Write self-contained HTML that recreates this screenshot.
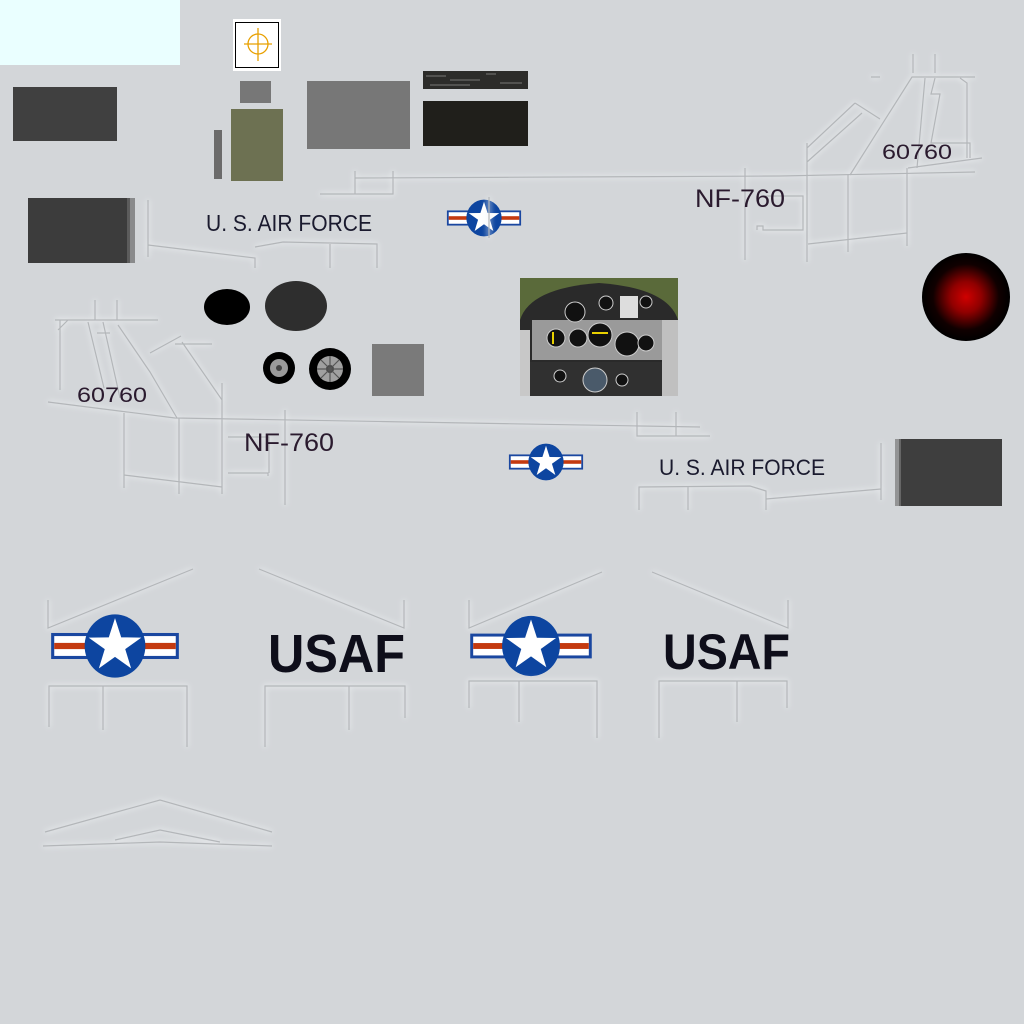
<!DOCTYPE html>
<html><head><meta charset="utf-8"><style>
html,body{margin:0;padding:0;background:#d3d6d9;}
svg{display:block}
.t{font-family:"Liberation Sans","DejaVu Sans",sans-serif;}
</style></head><body>
<svg width="1024" height="1024" viewBox="0 0 1024 1024" xmlns="http://www.w3.org/2000/svg">
<defs>
<filter id="glow" x="-10%" y="-10%" width="120%" height="120%">
<feGaussianBlur in="SourceAlpha" stdDeviation="3" result="b"/>
<feFlood flood-color="#eef0f2"/><feComposite in2="b" operator="in"/>
<feMerge><feMergeNode/><feMergeNode/><feMergeNode in="SourceGraphic"/></feMerge>
</filter>
<radialGradient id="rg">
<stop offset="0" stop-color="#d00000"/>
<stop offset="0.35" stop-color="#900000"/>
<stop offset="0.75" stop-color="#100000"/>
<stop offset="1" stop-color="#000"/>
</radialGradient>
<g id="roundel">
<rect x="-2.06" y="-0.42" width="4.12" height="0.84" fill="#1a47a0"/>
<rect x="-1.96" y="-0.32" width="3.92" height="0.64" fill="#fff"/>
<rect x="-1.96" y="-0.1" width="3.92" height="0.2" fill="#c43a10"/>
<ellipse cx="0" cy="0" rx="0.98" ry="1.02" fill="#0d45a0"/>
<polygon fill="#fff" points="0,-0.9 0.2,-0.28 0.85,-0.27 0.33,0.1 0.52,0.72 0,0.35 -0.52,0.72 -0.33,0.1 -0.85,-0.27 -0.2,-0.28"/>
</g>
</defs>
<rect width="1024" height="1024" fill="#d3d6d9"/>
<rect x="0" y="0" width="180" height="65" fill="#eaffff"/>
<rect x="233" y="19" width="48" height="52" fill="#fff"/>
<rect x="235.5" y="22.5" width="43" height="45" fill="none" stroke="#000" stroke-width="1"/>
<circle cx="258" cy="44" r="10" fill="none" stroke="#e8a000" stroke-width="1.3"/>
<path d="M244 44H272M258 28V61" stroke="#e8a000" stroke-width="1.3"/>
<rect x="13" y="87" width="104" height="54" fill="#404040"/>
<rect x="240" y="81" width="31" height="22" fill="#777"/>
<rect x="231" y="109" width="52" height="72" fill="#6d7152"/>
<rect x="214" y="130" width="8" height="49" fill="#6b6b6b"/>
<rect x="307" y="81" width="103" height="68" fill="#777"/>
<rect x="423" y="71" width="105" height="18" fill="#2c2c2a"/>
<path d="M426 76h20M450 80h30M486 74h10M500 83h22M430 85h40" stroke="#777" stroke-width="1"/>
<rect x="423" y="101" width="105" height="45" fill="#201f1b"/>
<rect x="28" y="198" width="102" height="65" fill="#3c3c3c"/>
<rect x="127" y="198" width="8" height="65" fill="#6a6a6a" opacity="0.7"/>
<rect x="899" y="439" width="103" height="67" fill="#3e3e3e"/>
<rect x="895" y="439" width="6" height="67" fill="#777" opacity="0.7"/>
<ellipse cx="227" cy="307" rx="23" ry="18" fill="#000"/>
<ellipse cx="296" cy="306" rx="31" ry="25" fill="#2e2e2e"/>
<circle cx="279" cy="368" r="16" fill="#000"/><circle cx="279" cy="368" r="9" fill="#9a9a9a"/><circle cx="279" cy="368" r="3" fill="#444"/>
<circle cx="330" cy="369" r="21" fill="#000"/><circle cx="330" cy="369" r="13" fill="#a0a0a0"/><circle cx="330" cy="369" r="4" fill="#444"/>
<path d="M330 356V382M317 369H343M321 360L339 378M339 360L321 378" stroke="#555" stroke-width="1.2"/>
<rect x="372" y="344" width="52" height="52" fill="#7a7a7a"/>
<circle cx="966" cy="297" r="44" fill="url(#rg)"/>
<g>
<rect x="520" y="278" width="158" height="118" fill="#5a6a3a"/>
<path d="M520 396V320Q530 288 599 283Q668 288 678 320V396Z" fill="#2a2a2a"/>
<rect x="532" y="320" width="140" height="40" fill="#9a9a9a"/>
<rect x="520" y="362" width="158" height="34" fill="#303030"/>
<rect x="662" y="320" width="16" height="76" fill="#c0c0c0"/>
<rect x="520" y="330" width="10" height="66" fill="#c8c8c8"/>
<g fill="#111" stroke="#ccc" stroke-width="1">
<circle cx="575" cy="312" r="10"/><circle cx="556" cy="338" r="9"/><circle cx="578" cy="338" r="9"/><circle cx="600" cy="335" r="12"/><circle cx="627" cy="344" r="12"/><circle cx="646" cy="343" r="8"/><circle cx="606" cy="303" r="7"/><circle cx="646" cy="302" r="6"/><circle cx="595" cy="380" r="12" fill="#4a5a6a"/><circle cx="560" cy="376" r="6"/><circle cx="622" cy="380" r="6"/>
</g>
<rect x="620" y="296" width="18" height="22" fill="#ddd"/>
<path d="M592 333h16M553 332v12" stroke="#e8d000" stroke-width="2"/>
</g>
<use href="#roundel" transform="translate(484,218) scale(18)"/>
<use href="#roundel" transform="translate(546,462) scale(18)"/>
<use href="#roundel" transform="translate(115,646) scale(31)"/>
<use href="#roundel" transform="translate(531,646) scale(29.5)"/>
<g filter="url(#glow)" fill="none" stroke="#b3b6b9" stroke-width="1.2">
<path d="M320 194H393V171M355 171V194M355 178L780 176L975 172"/>
<path d="M148 200V257M148 245L255 258V268M255 247L283 242L377 244V268M330 244V268"/>
<path d="M489 197V238"/>
<path d="M807 143V262M807 148L855 103M807 162L862 113M855 103L880 119M850 175L912 77L975 77M871 77H880M913 73V54M935 73V54M925 78L917 168M935 78L931 94L940 94L931 143L970 143V158M960 78L967 83V158M908 168L982 158M848 175V252M907 168V246M808 244L907 233M745 168V260M763 196H803V230H763V226H757V230"/>
<path d="M48 402L175 418L700 427M55 320H158M60 320L60 390M68 320L58 330M95 300V320M117 300V320M88 322L104 388M103 322L120 398M97 333H110M118 325L150 372L177 418M150 353L181 336M182 342L222 400M175 344L212 344M222 383V494M124 413V488M124 475L222 487M179 418V494M285 410V505M228 437H269V473M228 473H268V476"/>
<path d="M637 412V436H710M676 412V436"/>
<path d="M639 510V487L750 486L766 491V510M688 487V510M766 499L881 489M881 443V500"/>
<path d="M48 600V628L193 569M259 569L404 628V600"/>
<path d="M49 727V686H187V747M103 686V730M265 747V686H405V718M349 686V730"/>
<path d="M469 600V628L602 572M652 572L788 628V600"/>
<path d="M469 708V681H597V738M519 681V722M659 738V681H787V708M737 681V722"/>
<path d="M45 832L160 800L272 832M43 846L160 842L272 846M115 840L160 830L220 842"/>
</g>
<g class="t" fill="#1a1a2e">
<text x="206" y="231" font-size="23" textLength="166" lengthAdjust="spacingAndGlyphs">U. S. AIR FORCE</text>
<text x="659" y="475" font-size="22.5" textLength="166" lengthAdjust="spacingAndGlyphs">U. S. AIR FORCE</text>
<text x="695" y="207" font-size="25" fill="#2a1a2e" textLength="90" lengthAdjust="spacingAndGlyphs">NF-760</text>
<text x="244" y="451" font-size="25" fill="#2a1a2e" textLength="90" lengthAdjust="spacingAndGlyphs">NF-760</text>
<text x="882" y="159" font-size="21" fill="#2a1a2e" textLength="70" lengthAdjust="spacingAndGlyphs">60760</text>
<text x="77" y="402" font-size="21" fill="#2a1a2e" textLength="70" lengthAdjust="spacingAndGlyphs">60760</text>
<text x="268" y="672" font-size="54" font-weight="bold" fill="#0e0e1a" textLength="137" lengthAdjust="spacingAndGlyphs">USAF</text>
<text x="663" y="669" font-size="50" font-weight="bold" fill="#0e0e1a" textLength="127" lengthAdjust="spacingAndGlyphs">USAF</text>
</g>
</svg>
</body></html>
